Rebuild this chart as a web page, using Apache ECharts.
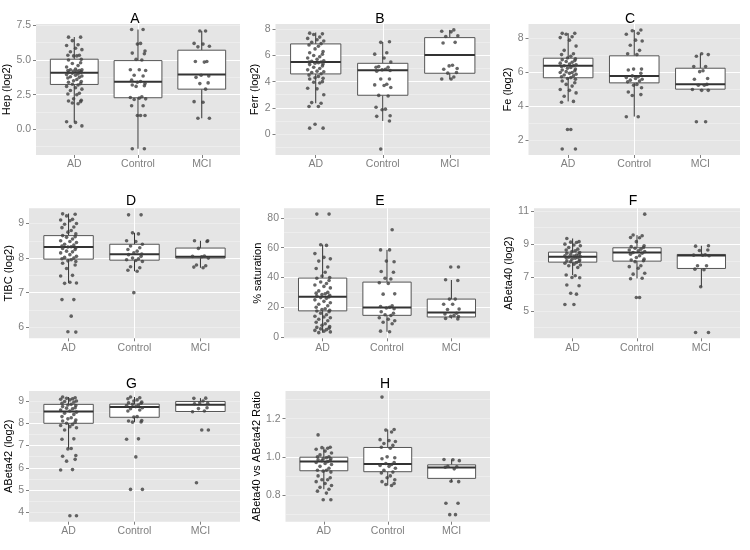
<!DOCTYPE html>
<html><head><meta charset="utf-8">
<script src="https://cdn.jsdelivr.net/npm/echarts@6/dist/echarts.min.js"></script>
<style>html,body{margin:0;padding:0;background:#fff}#c{width:750px;height:550px}</style>
</head><body><div id="c"></div>
<script>
const categories = ['AD', 'Control', 'MCI'];
const panelTitles = ['A', 'B', 'C', 'D', 'E', 'F', 'G', 'H'];
const yAxisNames = ['Hep (log2)', 'Ferr (log2)', 'Fe (log2)', 'TIBC (log2)', '% saturation', 'ABeta40 (log2)', 'ABeta42 (log2)', 'ABeta40 vs ABeta42 Ratio'];

// y tick labels per panel
const ticksA = [0, 2.5, 5, 7.5];
const ticksB = [0, 2, 4, 6, 8];
const ticksC = [2, 4, 6, 8];
const ticksD = [6, 7, 8, 9];
const ticksE = [0, 20, 40, 60, 80];
const ticksF = [5, 7, 9, 11];
const ticksG = [4, 5, 6, 7, 8, 9];
const ticksH = [0.8, 1.0, 1.2];

// box stats: [lower whisker, Q1, median, Q3, upper whisker] for AD, Control, MCI
const boxA = [[0.53, 3.24, 4.09, 5.06, 6.66], [-1.4, 2.28, 3.44, 4.96, 7.2], [0.8, 2.9, 3.95, 5.71, 7.09]];
const boxB = [[2.35, 4.59, 5.5, 6.88, 7.75], [1.0, 2.96, 4.87, 5.4, 7.03], [4.18, 4.64, 6.04, 7.36, 7.95]];
const boxC = [[4.3, 5.69, 6.39, 6.84, 8.31], [3.41, 5.39, 5.8, 6.98, 8.5], [4.95, 5.02, 5.31, 6.25, 7.1]];
const boxD = [[7.28, 7.97, 8.32, 8.65, 9.29], [7.62, 7.94, 8.11, 8.4, 8.73], [7.72, 8.0, 8.04, 8.29, 8.5]];
const boxE = [[3, 17.6, 27, 39.6, 62], [3.6, 14.6, 19.8, 36.9, 58.5], [12.4, 13.5, 16.5, 25.5, 38.3]];
const boxF = [[7.14, 7.92, 8.24, 8.52, 9.34], [6.94, 7.98, 8.5, 8.78, 9.54], [6.44, 7.54, 8.32, 8.38, 8.9]];
const boxG = [[6.87, 8.0, 8.53, 8.85, 9.18], [8.06, 8.27, 8.73, 8.86, 9.18], [8.52, 8.53, 8.83, 8.98, 9.13]];
const boxH = [[0.83, 0.927, 0.976, 0.998, 1.05], [0.85, 0.922, 0.962, 1.049, 1.143], [0.868, 0.887, 0.944, 0.958, 0.986]];

// individual observations
const hepAD = [6.65,6.65,6.4,6.1,6.05,5.85,5.75,5.6,5.35,5.35,5.3,5.3,5.05,5.0,4.8,4.75,4.6,4.5,4.35,4.3,4.3,4.25,4.25,4.2,4.2,4.15,4.1,4.1,4.05,4.0,3.95,3.9,3.85,3.8,3.75,3.7,3.6,3.5,3.45,3.4,3.3,3.25,3.2,3.1,3.0,2.9,2.8,2.6,2.55,2.5,2.2,2.1,2.05,2.0,1.9,1.85,0.55,0.5,0.25,0.2];
const hepControl = [7.2,7.2,6.2,6.15,5.65,5.5,5.45,5.05,5.0,4.3,4.3,4.25,3.9,3.85,3.55,3.45,3.4,3.3,3.2,3.15,3.1,2.35,2.3,2.25,2.2,2.15,1.7,1.7,1.0,1.0,1.0,-1.4,-1.4];
const hepMCI = [7.1,7.1,6.2,6.15,6.0,5.95,4.9,4.9,4.85,3.9,3.85,3.75,3.35,3.3,2.9,2.0,1.95,0.8,0.8];

const ferrAD = [7.7,7.65,7.6,7.4,7.3,7.2,7.1,7.0,6.9,6.8,6.7,6.5,6.3,6.2,6.1,6.0,5.9,5.8,5.7,5.6,5.55,5.5,5.5,5.45,5.4,5.35,5.3,5.2,5.1,5.0,4.9,4.8,4.75,4.7,4.6,4.5,4.4,4.3,4.25,4.2,4.0,3.95,3.9,3.5,3.45,3.0,2.4,2.35,2.1,2.1,0.75,0.45,0.45];
const ferrControl = [7.05,7.0,6.2,6.1,5.8,5.5,5.15,5.1,5.1,4.95,4.9,4.85,4.8,4.2,4.2,3.8,3.75,3.7,3.55,2.95,2.9,2.05,1.9,1.85,1.4,1.35,1.0,-1.15];
const ferrMCI = [7.95,7.85,7.8,7.5,7.45,7.0,6.95,5.25,5.2,5.0,4.95,4.7,4.65,4.35,4.2,4.2];

const feAD = [8.3,8.3,8.25,8.1,8.05,7.9,7.55,7.3,7.1,7.05,6.95,6.85,6.8,6.75,6.7,6.65,6.6,6.55,6.5,6.45,6.4,6.4,6.35,6.3,6.25,6.2,6.15,6.1,6.05,6.0,6.0,5.95,5.9,5.85,5.8,5.75,5.7,5.65,5.6,5.5,5.4,5.3,5.2,5.0,4.95,4.8,4.6,4.3,4.25,2.65,2.65,1.5,1.5];
const feControl = [8.5,8.45,8.3,8.25,7.9,7.85,7.6,7.3,7.1,7.05,6.2,6.2,6.15,5.95,5.8,5.75,5.7,5.65,5.6,5.55,5.5,5.45,5.3,5.25,5.1,4.85,4.7,4.65,3.4,3.4];
const feMCI = [7.1,7.05,6.95,6.35,6.35,6.1,6.05,5.65,5.6,5.3,5.25,5.25,5.0,4.95,4.95,3.1,3.1];

const tibcAD = [9.28,9.27,9.22,9.12,9.1,9.08,9.0,8.98,8.9,8.88,8.8,8.75,8.7,8.65,8.62,8.6,8.55,8.5,8.48,8.45,8.4,8.38,8.35,8.33,8.32,8.3,8.28,8.25,8.2,8.18,8.15,8.1,8.05,8.02,8.0,7.98,7.95,7.92,7.9,7.85,7.8,7.7,7.5,7.48,7.3,7.28,7.27,6.8,6.8,6.32,5.87,5.86];
const tibcControl = [9.25,9.25,8.73,8.7,8.5,8.48,8.4,8.35,8.3,8.25,8.2,8.15,8.12,8.1,8.05,8.0,7.98,7.95,7.93,7.9,7.75,7.72,7.65,7.62,7.0];
const tibcMCI = [8.5,8.5,8.48,8.28,8.06,8.05,8.04,8.0,7.8,7.78,7.74,7.72];

const satAD = [82.5,82.5,62,61.5,56,53.5,52.5,51,47,46,43.5,41,40,39.5,38,37,36,35,34,33,31,30,29.5,29,28.5,28,27.5,27,26.5,26,25,24,23,22,21,20,19,18.5,18,17.5,17,16,15,14,13.5,13,12,11,10,9,8,7,6.5,6,5.5,5,4.5,4,3.5,3];
const satControl = [72,58.5,58.5,51,50.5,44,43.5,39.5,39,36.5,36,29,28.8,21,20.5,20,19.5,19,17,16,15,14.5,13,12,11,10,9,4,3.6];
const satMCI = [47,47,38.5,38,25.5,25.5,22,22,18.8,18.5,16,15.5,14.5,14,13.8,12.5,12.2];

const ab40AD = [9.34,9.15,9.12,9.1,9.0,8.95,8.9,8.8,8.7,8.65,8.6,8.55,8.5,8.45,8.4,8.38,8.35,8.3,8.28,8.25,8.22,8.2,8.18,8.15,8.1,8.05,8.0,7.98,7.95,7.9,7.85,7.8,7.75,7.7,7.6,7.15,7.1,7.0,6.98,6.55,6.5,6.05,6.0,5.38,5.38];
const ab40Control = [10.8,9.55,9.5,9.4,9.38,9.15,8.9,8.85,8.8,8.75,8.7,8.65,8.6,8.55,8.5,8.45,8.4,8.3,8.2,8.1,8.05,8.0,7.95,7.7,7.65,7.55,7.25,7.2,6.95,6.92,5.8,5.8];
const ab40MCI = [8.9,8.88,8.65,8.62,8.36,8.34,8.33,8.3,7.7,7.7,7.5,7.46,6.44,3.7,3.7];

const ab42AD = [9.18,9.15,9.12,9.1,9.08,9.05,9.0,8.98,8.95,8.9,8.85,8.82,8.8,8.75,8.7,8.68,8.65,8.6,8.55,8.5,8.45,8.4,8.3,8.25,8.2,8.15,8.1,8.05,8.0,7.95,7.9,7.85,7.8,7.7,7.3,7.28,6.87,6.85,6.55,6.52,6.38,6.3,5.92,5.9,3.85,3.85];
const ab42Control = [9.18,9.15,9.1,9.05,9.0,8.95,8.92,8.9,8.85,8.82,8.8,8.75,8.7,8.65,8.6,8.55,8.3,8.28,8.12,8.1,8.06,8.05,7.3,7.28,6.49,5.03,5.03];
const ab42MCI = [9.13,9.12,9.0,8.92,8.9,8.88,8.7,8.66,8.55,8.52,7.7,7.7,5.33];

const ratioAD = [1.115,1.05,1.048,1.045,1.04,1.03,1.02,1.01,1.0,1.0,0.995,0.99,0.99,0.985,0.98,0.98,0.975,0.97,0.965,0.96,0.95,0.94,0.93,0.93,0.925,0.92,0.9,0.89,0.88,0.88,0.87,0.86,0.85,0.84,0.83,0.82,0.81,0.775,0.775];
const ratioControl = [1.313,1.143,1.14,1.13,1.09,1.085,1.08,1.07,1.06,1.05,1.045,1.0,0.995,0.99,0.97,0.965,0.96,0.955,0.95,0.94,0.93,0.92,0.915,0.9,0.89,0.88,0.87,0.86,0.855,0.85];
const ratioMCI = [0.986,0.985,0.98,0.95,0.948,0.945,0.937,0.872,0.87,0.757,0.757,0.697,0.697];

// ---- assembly ----
const ticksList = [ticksA, ticksB, ticksC, ticksD, ticksE, ticksF, ticksG, ticksH];
const boxList = [boxA, boxB, boxC, boxD, boxE, boxF, boxG, boxH];
const pointList = [
  [hepAD, hepControl, hepMCI], [ferrAD, ferrControl, ferrMCI], [feAD, feControl, feMCI],
  [tibcAD, tibcControl, tibcMCI], [satAD, satControl, satMCI], [ab40AD, ab40Control, ab40MCI],
  [ab42AD, ab42Control, ab42MCI], [ratioAD, ratioControl, ratioMCI]
];
// layout (pixels) and axis ranges
const layout = [
  {l: 36, t: 24, r: 240, b: 155, gap: 20, tx: 135, ty: 19, min: -1.85, max: 7.6, step: 2.5, dec: 1},
  {l: 275.5, t: 24, r: 490, b: 155, gap: 9, tx: 380, ty: 19, min: -1.6, max: 8.4, step: 2, dec: 0},
  {l: 528.5, t: 24, r: 740, b: 155, gap: 11, tx: 630, ty: 19, min: 1.15, max: 8.85, step: 2, dec: 0},
  {l: 29, t: 208.3, r: 240, b: 338.3, gap: 11.5, tx: 131, ty: 201, min: 5.68, max: 9.44, step: 1, dec: 0},
  {l: 284, t: 208.3, r: 490, b: 338.3, gap: 16, tx: 380, ty: 201, min: -0.8, max: 86.4, step: 20, dec: 0},
  {l: 534, t: 208.3, r: 740, b: 338.3, gap: 15.5, tx: 633, ty: 201, min: 3.35, max: 11.15, step: 2, dec: 0},
  {l: 29, t: 391, r: 240, b: 521.7, gap: 11, tx: 131.5, ty: 384.5, min: 3.58, max: 9.45, step: 1, dec: 0},
  {l: 285.5, t: 391, r: 490, b: 521.7, gap: 17, tx: 385, ty: 384.5, min: 0.66, max: 1.345, step: 0.2, dec: 1}
];
const FONT = "'Liberation Sans', Arial, sans-serif";
const jitterSeq = [-0.09, 0.1, -0.03, 0.06, -0.12, 0.02, 0.12, -0.06, 0.08, -0.1, 0.04, -0.01, 0.11];

function renderBox(params, api) {
  const x = api.value(0);
  const pLo = api.coord([x, api.value(1)]);
  const pQ1 = api.coord([x, api.value(2)]);
  const pMd = api.coord([x, api.value(3)]);
  const pQ3 = api.coord([x, api.value(4)]);
  const pHi = api.coord([x, api.value(5)]);
  const w = api.size([0.75, 0])[0];
  const stroke = '#333333';
  return {
    type: 'group',
    children: [
      {type: 'line', shape: {x1: pLo[0], y1: pLo[1], x2: pQ1[0], y2: pQ1[1]}, style: {stroke: stroke, lineWidth: 1}},
      {type: 'line', shape: {x1: pQ3[0], y1: pQ3[1], x2: pHi[0], y2: pHi[1]}, style: {stroke: stroke, lineWidth: 1}},
      {type: 'rect', shape: {x: pQ3[0] - w / 2, y: pQ3[1], width: w, height: pQ1[1] - pQ3[1]}, style: {fill: '#ffffff', stroke: '#555555', lineWidth: 1}},
      {type: 'line', shape: {x1: pMd[0] - w / 2, y1: pMd[1], x2: pMd[0] + w / 2, y2: pMd[1]}, style: {stroke: stroke, lineWidth: 2}}
    ]
  };
}

const grids = [], xAxes = [], yAxes = [], series = [], graphics = [];
layout.forEach(function (p, i) {
  grids.push({left: p.l, top: p.t, width: p.r - p.l, height: p.b - p.t, show: true, backgroundColor: '#E5E5E5', borderWidth: 0});
  xAxes.push({
    type: 'value', gridIndex: i, position: 'bottom', min: 0.4, max: 3.6, minInterval: 1, maxInterval: 1,
    axisLine: {show: false, onZero: false},
    axisTick: {show: true, length: 3, lineStyle: {color: '#7F7F7F'}, customValues: [1, 2, 3]},
    axisLabel: {customValues: [1, 2, 3], color: '#7F7F7F', fontSize: 10.5, fontFamily: FONT, margin: 4,
      formatter: function (v) { const k = Math.round(v); return Math.abs(v - k) < 1e-6 && categories[k - 1] ? categories[k - 1] : ''; }},
    splitLine: {show: true, lineStyle: {color: '#FFFFFF', width: 1}, showMinLine: false, showMaxLine: false}
  });
  // minor grid axis
  yAxes.push({
    type: 'value', gridIndex: i, position: 'left', min: p.min, max: p.max, minInterval: p.step / 2, maxInterval: p.step / 2,
    axisLine: {show: false, onZero: false}, axisTick: {show: false}, axisLabel: {show: false},
    splitLine: {show: true, lineStyle: {color: '#F2F2F2', width: 0.6}, showMinLine: false, showMaxLine: false}, z: 0
  });
  // major axis
  const tv = ticksList[i];
  yAxes.push({
    type: 'value', gridIndex: i, position: 'left', min: p.min, max: p.max, minInterval: p.step, maxInterval: p.step, z: 1,
    name: yAxisNames[i], nameLocation: 'middle', nameRotate: 90, nameGap: p.gap,
    nameTextStyle: {color: '#000000', fontSize: 11, fontFamily: FONT},
    axisLine: {show: false, onZero: false},
    axisTick: {show: true, length: 3, lineStyle: {color: '#7F7F7F'}, customValues: tv},
    axisLabel: {customValues: tv, color: '#7F7F7F', fontSize: 10.5, fontFamily: FONT, margin: 5,
      formatter: function (v) { return Number(v).toFixed(p.dec); }},
    splitLine: {show: true, lineStyle: {color: '#FFFFFF', width: 1}, showMinLine: false, showMaxLine: false}
  });
  series.push({
    type: 'custom', xAxisIndex: i, yAxisIndex: 2 * i + 1, z: 2, silent: true,
    renderItem: renderBox,
    encode: {x: 0, y: [1, 2, 3, 4, 5]},
    data: boxList[i].map(function (b, k) { return [k + 1].concat(b); })
  });
  const pts = [];
  let n = 0;
  pointList[i].forEach(function (vals, k) {
    vals.forEach(function (v) { pts.push([k + 1 + jitterSeq[n % jitterSeq.length], v]); n++; });
  });
  series.push({
    type: 'scatter', xAxisIndex: i, yAxisIndex: 2 * i + 1, z: 3, silent: true,
    symbol: 'circle', symbolSize: 3.6, itemStyle: {color: '#404040'}, data: pts
  });
  graphics.push({
    type: 'text', x: p.tx, y: p.ty,
    style: {text: panelTitles[i], fill: '#000000', font: '14px ' + FONT, textAlign: 'center', textVerticalAlign: 'middle'}
  });
});

const chart = echarts.init(document.getElementById('c'), null, {renderer: 'canvas'});
chart.setOption({
  animation: false,
  backgroundColor: '#FFFFFF',
  grid: grids, xAxis: xAxes, yAxis: yAxes, series: series, graphic: graphics
});
</script>
</body></html>
